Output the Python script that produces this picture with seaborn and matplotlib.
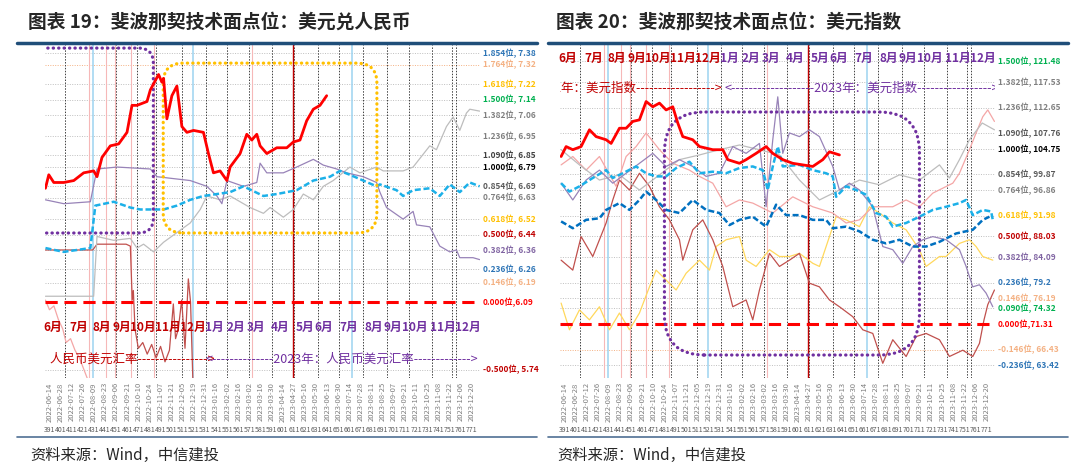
import seaborn as sns
import matplotlib.pyplot as plt
from matplotlib.patches import FancyBboxPatch
from matplotlib.lines import Line2D
from matplotlib.transforms import IdentityTransform, blended_transform_factory

sns.set_theme(style="white")
plt.rcParams['font.family'] = ['Noto Sans CJK SC', 'DejaVu Sans']
plt.rcParams['axes.unicode_minus'] = False

# ---- x axis: trading-day index, a label every 10 sessions ----
tick_idx = list(range(391, 772, 10))
tick_dates = ["2022-06-14", "2022-06-28", "2022-07-12", "2022-07-26", "2022-08-09", "2022-08-23",
              "2022-09-06", "2022-09-21", "2022-10-10", "2022-10-24", "2022-11-07", "2022-11-21",
              "2022-12-05", "2022-12-19", "2022-12-31", "2023-01-16", "2023-02-02", "2023-02-16",
              "2023-03-02", "2023-03-16", "2023-03-30", "2023-04-14", "2023-04-27", "2023-05-16",
              "2023-05-30", "2023-06-13", "2023-06-30", "2023-07-14", "2023-07-28", "2023-08-11",
              "2023-08-25", "2023-09-07", "2023-09-21", "2023-10-11", "2023-10-25", "2023-11-08",
              "2023-11-22", "2023-12-06", "2023-12-20"]

month_names = ["6月", "7月", "8月", "9月", "10月", "11月", "12月", "1月", "2月", "3月", "4月", "5月",
               "6月", "7月", "8月", "9月", "10月", "11月", "12月"]
month_pos = [394, 417.5, 438.5, 456, 475, 497.5, 520, 539, 559, 577, 599, 621, 638, 660, 683, 700,
             720, 745.5, 768]

month_ends = [405, 427, 451, 470, 487, 510, 532, 551, 571, 591, 611, 633, 652, 673, 695, 715, 735, 753, 757]
blue_marks = [430, 520, 663]
pink_marks = [427, 442, 450, 464.5, 485, 573.5]
red_marks = [610]

# ---- USD/CNY fibonacci levels ----
cny_levels = [1.854, 1.764, 1.618, 1.5, 1.382, 1.236, 1.09, 1.0, 0.854, 0.764, 0.618, 0.5, 0.382,
              0.236, 0.146, 0.0, -0.5]
cny_prices = [7.38, 7.32, 7.22, 7.14, 7.06, 6.95, 6.85, 6.79, 6.69, 6.63, 6.52, 6.44, 6.36, 6.26,
              6.19, 6.09, 5.74]
cny_colors = ['#2E75B6', '#F4B183', '#FFC000', '#00B050', '#808080', '#808080', '#404040', '#000000',
              '#595959', '#808080', '#FFC000', '#C00000', '#8064A2', '#2E75B6', '#F4B183', '#FF0000',
              '#C00000']

cny_red_x = [387.4, 390.4, 394.9, 403.9, 412.9, 421.8, 430.8, 433.8, 438.3, 445.8, 453.3, 460.8, 465.3,
             469.8, 478.8, 481.8, 489.2, 492.2, 493.7, 496.7, 501.2, 505.7, 510.2, 514.7, 520.7, 529.6,
             534.1, 538.6, 544.6, 550.7, 553.6, 562.6, 568.6, 573.1, 577.6, 580.6, 586.6, 595.6, 604.6,
             610.5, 616.5, 622.5, 628.5, 634.5, 640.5]
cny_red_y = [6.68, 6.75, 6.71, 6.71, 6.72, 6.76, 6.77, 6.74, 6.84, 6.90, 6.91, 6.97, 7.11, 7.11, 7.13,
             7.19, 7.27, 7.23, 7.25, 7.04, 7.16, 7.21, 7.00, 6.97, 6.98, 6.97, 6.86, 6.76, 6.77, 6.72,
             6.79, 6.86, 6.96, 6.93, 6.96, 6.90, 6.86, 6.89, 6.89, 6.92, 6.93, 7.03, 7.09, 7.11, 7.16]

cny_purple_x = [387.4, 403.9, 427.8, 433.8, 451.8, 481.8, 487.8, 517.7, 532.7, 541.7, 546.2, 550.7,
                565.6, 577.6, 580.6, 586.6, 601.5, 613.5, 628.5, 637.5, 649.5, 658.5, 673.4, 685.4,
                688.4, 694.4, 709.3, 718.3, 721.4, 733.3, 742.3, 751.3, 757.3, 760.3, 772.2, 778.2]
cny_purple_y = [6.62, 6.60, 6.61, 6.78, 6.79, 6.78, 6.74, 6.72, 6.69, 6.64, 6.60, 6.72, 6.69, 6.71,
                6.81, 6.76, 6.76, 6.79, 6.83, 6.80, 6.78, 6.76, 6.74, 6.71, 6.66, 6.58, 6.52, 6.56,
                6.49, 6.48, 6.38, 6.35, 6.36, 6.32, 6.32, 6.31]

cny_gray_x = [387.4, 430.8, 433.8, 448.8, 463.8, 469.8, 475.7, 484.7, 493.7, 505.7, 517.7, 526.7, 532.7,
              544.6, 553.6, 571.6, 583.6, 589.6, 601.5, 610.5, 619.5, 628.5, 637.5, 646.4, 661.4, 670.4,
              685.4, 691.4, 709.3, 718.3, 733.3, 739.3, 748.3, 754.3, 760.3, 766.3, 769.3, 778.2]
cny_gray_y = [6.12, 6.12, 6.43, 6.41, 6.42, 6.37, 6.39, 6.35, 6.40, 6.45, 6.50, 6.57, 6.64, 6.62, 6.64,
              6.58, 6.55, 6.58, 6.53, 6.57, 6.65, 6.62, 6.69, 6.72, 6.79, 6.76, 6.79, 6.77, 6.77, 6.79,
              6.90, 6.88, 7.00, 7.05, 6.98, 7.07, 7.09, 7.08]

cny_blue_x = [387.4, 403.9, 427.8, 432.3, 448.8, 463.8, 472.8, 493.7, 505.7, 517.7, 529.6, 541.7, 553.6,
              565.6, 583.6, 595.6, 613.5, 628.5, 643.5, 652.5, 661.4, 673.4, 685.4, 688.4, 703.4, 709.3,
              718.3, 733.3, 742.3, 751.3, 760.3, 769.3, 778.2]
cny_blue_y = [6.37, 6.35, 6.37, 6.59, 6.61, 6.58, 6.57, 6.57, 6.59, 6.62, 6.64, 6.65, 6.66, 6.69, 6.64,
              6.65, 6.67, 6.72, 6.74, 6.77, 6.75, 6.72, 6.69, 6.70, 6.67, 6.64, 6.67, 6.68, 6.64, 6.70,
              6.66, 6.71, 6.69]

cny_darkred_x = [387.4, 430.0, 433.8, 460.0, 463.8, 465.5, 466.5, 468.0, 471.0, 475.0, 479.0, 483.0,
                 487.0, 491.0, 495.0, 499.0, 502.5, 504.5, 507.0, 510.0, 513.0, 516.0, 518.0, 520.5]
cny_darkred_y = [6.36, 6.36, 6.39, 6.39, 6.38, 6.10, 6.15, 5.95, 5.85, 5.88, 5.82, 5.87, 5.80, 5.86,
                 5.78, 5.84, 6.08, 5.90, 5.95, 6.10, 5.85, 6.21, 6.09, 5.60]

cny_pink_x = [387.4, 391, 395, 399, 403, 406, 410, 414, 418, 422, 426, 428]
cny_pink_y = [6.10, 6.05, 6.07, 6.00, 5.95, 5.88, 5.90, 5.84, 5.80, 5.74, 5.68, 5.62]

# ---- US dollar index fibonacci levels ----
dxy_levels = [1.5, 1.382, 1.236, 1.09, 1.0, 0.854, 0.764, 0.618, 0.5, 0.382, 0.236, 0.146, 0.09, 0.0,
              -0.146, -0.236]
dxy_prices = [121.48, 117.53, 112.65, 107.76, 104.75, 99.87, 96.86, 91.98, 88.03, 84.09, 79.2, 76.19,
              74.32, 71.31, 66.43, 63.42]
dxy_colors = ['#00B050', '#808080', '#808080', '#595959', '#000000', '#595959', '#808080', '#FFC000',
              '#C00000', '#8064A2', '#2E75B6', '#F4B183', '#00B050', '#FF0000', '#F4B183', '#2E75B6']

dxy_red_x = [388.0, 392.5, 398.5, 406.0, 413.5, 419.5, 428.5, 433.0, 440.5, 446.5, 452.5, 458.5, 464.5,
             470.5, 476.5, 482.5, 488.5, 493.0, 497.5, 506.5, 512.5, 524.5, 533.5, 538.0, 548.5, 554.5,
             563.5, 572.5, 578.5, 587.5, 596.5, 605.5, 614.5, 623.5, 629.5, 638.5]
dxy_red_y = [103.3, 105.2, 104.6, 105.2, 108.4, 107.1, 106.5, 105.8, 108.7, 108.7, 110.0, 110.3, 113.8,
             112.8, 113.5, 112.2, 112.8, 109.7, 107.1, 106.5, 105.2, 104.6, 104.6, 102.7, 102.0, 102.7,
             103.9, 105.2, 103.9, 102.7, 102.0, 101.7, 101.4, 102.7, 104.2, 103.6]

dxy_lblue_x = [388.0, 395.5, 404.5, 416.5, 428.5, 434.5, 443.5, 455.5, 464.5, 473.5, 482.5, 491.5,
               503.5, 512.5, 524.5, 536.5, 548.5, 560.5, 569.5, 574.0, 578.5, 583.0, 587.5, 602.5,
               614.5, 626.5, 632.5, 635.5, 644.5, 653.5, 662.5, 671.5, 680.5, 686.5, 698.5, 710.5,
               722.5, 734.5, 746.5, 752.5, 758.5, 767.5, 775.0, 776.5]
dxy_lblue_y = [98.2, 96.6, 97.6, 99.2, 100.7, 99.2, 100.1, 101.4, 100.1, 99.5, 99.5, 101.1, 102.3,
               100.1, 100.4, 100.1, 101.1, 101.4, 100.7, 96.9, 101.4, 105.2, 101.4, 101.7, 100.7,
               100.1, 99.5, 95.6, 97.6, 96.9, 96.0, 92.5, 91.8, 89.9, 90.6, 91.8, 93.1, 93.7, 94.4,
               95.0, 92.1, 93.1, 92.8, 91.2]

dxy_dblue_x = [388.0, 398.5, 410.5, 422.5, 428.5, 440.5, 449.5, 458.5, 464.5, 473.5, 482.5, 494.5,
               506.5, 518.5, 530.5, 539.5, 548.5, 560.5, 572.5, 581.5, 590.5, 602.5, 614.5, 626.5,
               632.5, 644.5, 656.5, 668.5, 680.5, 692.5, 704.5, 716.5, 728.5, 743.5, 758.5, 767.5, 773.5]
dxy_dblue_y = [90.9, 89.6, 91.2, 91.5, 93.1, 94.4, 93.1, 95.0, 96.6, 95.0, 93.1, 92.5, 95.0, 93.1,
               92.5, 90.2, 91.2, 91.8, 89.9, 94.1, 92.1, 92.1, 91.2, 91.2, 89.6, 89.9, 89.0, 87.4,
               86.7, 87.4, 86.1, 86.1, 87.0, 88.6, 89.3, 91.2, 91.8]

dxy_purple_x = [388.0, 398.5, 410.5, 422.5, 434.5, 446.5, 458.5, 470.5, 482.5, 494.5, 506.5, 518.5,
                530.5, 542.5, 554.5, 566.5, 572.5, 578.5, 583.0, 587.5, 593.5, 602.5, 611.5, 620.5,
                632.5, 638.5, 647.5, 656.5, 668.5, 677.5, 686.5, 695.5, 704.5, 713.5, 722.5, 734.5,
                746.5, 752.5, 758.5, 764.5, 770.5, 776.5]
dxy_purple_y = [98.2, 95.0, 98.8, 100.7, 98.2, 100.1, 102.0, 103.9, 101.4, 102.7, 101.4, 99.5, 100.1,
                105.2, 103.9, 105.8, 93.7, 106.5, 114.7, 103.9, 107.8, 107.1, 108.4, 107.1, 101.4,
                96.9, 98.2, 96.9, 93.7, 86.1, 85.5, 82.9, 86.1, 87.4, 88.0, 87.4, 85.5, 82.3, 78.4,
                78.8, 77.2, 74.6]

dxy_gray_x = [388.0, 404.5, 422.5, 440.5, 458.5, 476.5, 494.5, 512.5, 530.5, 548.5, 566.5, 584.5,
              602.5, 620.5, 638.5, 656.5, 674.5, 692.5, 710.5, 728.5, 737.5, 746.5, 755.5, 767.0, 778.0]
dxy_gray_y = [104.6, 101.7, 98.8, 99.8, 96.9, 99.8, 102.7, 103.6, 104.6, 105.5, 104.6, 103.6, 98.8,
              95.0, 96.9, 98.8, 97.9, 99.8, 98.8, 101.7, 99.2, 102.7, 106.5, 109.7, 108.4]

dxy_pink_x = [388.0, 398.5, 410.5, 422.5, 437.5, 446.5, 455.5, 464.5, 476.5, 488.5, 503.5, 512.5,
              524.5, 536.5, 548.5, 560.5, 578.5, 596.5, 614.5, 632.5, 644.5, 656.5, 668.5, 686.5,
              698.5, 710.5, 722.5, 740.5, 746.5, 755.5, 761.5, 767.5, 772.0, 778.0]
dxy_pink_y = [101.7, 103.3, 100.7, 103.3, 97.6, 103.3, 105.2, 107.8, 104.6, 102.0, 100.7, 99.5, 98.2,
              93.7, 95.0, 94.4, 92.5, 95.6, 93.7, 92.5, 90.6, 91.2, 93.7, 93.7, 95.0, 93.7, 96.3,
              98.2, 100.1, 104.6, 107.8, 110.9, 112.2, 110.0]

dxy_darkred_x = [388.0, 398.5, 406.0, 416.5, 428.5, 434.5, 440.5, 449.5, 458.5, 467.5, 476.5, 485.5,
                 494.5, 497.5, 506.5, 515.5, 524.5, 533.5, 542.5, 554.5, 560.5, 566.5, 575.5, 584.5,
                 593.5, 602.5, 611.5, 620.5, 629.5, 638.5, 650.5, 659.5, 668.5, 677.5, 686.5, 698.5,
                 707.5, 716.5, 728.5, 737.5, 749.5, 758.5, 764.5, 768.5, 772.0, 778.0]
dxy_darkred_y = [83.5, 81.6, 88.0, 84.2, 90.6, 95.0, 98.8, 96.9, 100.1, 97.6, 93.7, 91.2, 87.4, 83.5,
                 89.3, 91.2, 87.4, 82.3, 74.6, 75.9, 72.1, 77.8, 84.8, 82.3, 83.5, 84.8, 79.1, 78.4,
                 75.9, 74.6, 72.7, 70.2, 69.5, 63.8, 68.3, 65.1, 68.9, 69.5, 68.3, 65.1, 66.3, 65.1,
                 67.6, 72.0, 75.0, 77.8]

dxy_yellow_x = [388.0, 395.5, 404.5, 413.5, 422.5, 431.5, 440.5, 449.5, 458.5, 467.5, 473.5, 482.5,
                491.5, 500.5, 512.5, 521.5, 527.5, 536.5, 548.5, 554.5, 563.5, 575.5, 584.5, 593.5,
                602.5, 614.5, 620.5, 629.5, 635.5, 644.5, 656.5, 665.5, 674.5, 686.5, 698.5, 710.5,
                716.5, 728.5, 734.5, 746.5, 755.5, 761.5, 767.5, 776.5]
dxy_yellow_y = [75.3, 70.2, 74.0, 72.1, 74.6, 70.2, 73.4, 70.2, 73.4, 78.4, 81.6, 79.7, 77.8, 81.0,
                83.5, 81.6, 86.1, 87.4, 88.0, 83.5, 82.3, 85.5, 84.2, 84.2, 84.8, 82.9, 82.3, 88.0,
                91.8, 91.2, 89.9, 93.7, 92.5, 90.6, 89.3, 85.5, 82.3, 84.2, 84.2, 86.7, 87.4, 86.1,
                84.2, 83.5]

RED, PURPLE = '#C00000', '#7030A0'
DASH = (0, (2.4, 1.1))

fig = plt.figure(figsize=(10.8, 4.74), dpi=100)
ax_l = fig.add_axes([45 / 1080, 1 - 378 / 474, 435 / 1080, 333 / 474])
ax_r = fig.add_axes([560 / 1080, 1 - 378 / 474, 435 / 1080, 333 / 474])


def frame(ax, ylim, levels, prices, colors, tinted):
    ax.set_xlim(387, 778.5)
    ax.set_ylim(*ylim)
    for s in ax.spines.values():
        s.set_visible(False)
    ax.set_yticks([])
    ax.set_xticks(tick_idx)
    ax.set_xticklabels(tick_dates, rotation=90, fontsize=5.5, color='#7f7f7f')
    ax.tick_params(axis='x', length=0, pad=3)
    for lv, p in zip(levels, prices):
        if lv == 0:
            ax.axhline(p, color='#FF0000', lw=2.2, ls=(0, (4, 2.2)), zorder=6)
        else:
            c = '#F4B183' if lv in tinted else '#BFBFBF'
            ax.axhline(p, color=c, lw=0.7, ls=(0, (1, 1.5)), zorder=1)
    for v in month_ends:
        ax.axvline(v, color='#404040', lw=0.7, ls=(0, (1.5, 1.5)), zorder=1)
    for v in blue_marks:
        ax.axvline(v, color='#9DD3F0', lw=1.1, zorder=1)
    for v in pink_marks:
        ax.axvline(v, color='#F6B8B8', lw=0.8, zorder=1)
    for v in red_marks:
        ax.axvline(v, color='#C00000', lw=1.0, zorder=1)
    tr = blended_transform_factory(ax.transAxes, ax.transData)
    for lv, p, c in zip(levels, prices, colors):
        sep = ',' if lv == 0 else ', '
        ax.text(1.007, p, f"{lv:.3f}位{sep}{p}", transform=tr, fontsize=6, fontweight='bold',
                color=c, va='center', ha='left', clip_on=False)
    bt = blended_transform_factory(ax.transData, ax.transAxes)
    for t in tick_idx:
        ax.text(t, -0.156, str(t), transform=bt, fontsize=5, color='#595959', ha='center', va='center')


def months(ax, y):
    for i, (pos, name) in enumerate(zip(month_pos, month_names)):
        ax.text(pos, y, name, ha='center', va='center', fontsize=8.5, fontweight='bold',
                color=RED if i < 7 else PURPLE, zorder=9)


def rounded_box(ax, x0, x1, y0, y1, radius, color):
    (px0, py0), (px1, py1) = ax.transData.transform([(x0, y0), (x1, y1)])
    box = FancyBboxPatch((px0, py0), px1 - px0, py1 - py0,
                         boxstyle=f"round,pad=0,rounding_size={radius}",
                         transform=IdentityTransform(), fill=False, ec=color, lw=2.3,
                         ls=(0, (0.1, 1.6)), capstyle='round', zorder=7)
    ax.add_patch(box)


# ---------------- left: USD/CNY ----------------
frame(ax_l, (5.696, 7.423), cny_levels, cny_prices, cny_colors, tinted=[1.764])
sns.lineplot(x=cny_pink_x, y=cny_pink_y, ax=ax_l, color='#F4A6A6', lw=0.9, zorder=3)
sns.lineplot(x=cny_darkred_x, y=cny_darkred_y, ax=ax_l, color='#C0504D', lw=0.9, zorder=3)
sns.lineplot(x=cny_gray_x, y=cny_gray_y, ax=ax_l, color='#BDBDBD', lw=0.9, zorder=3)
sns.lineplot(x=cny_purple_x, y=cny_purple_y, ax=ax_l, color='#9883B8', lw=0.9, zorder=3)
sns.lineplot(x=cny_blue_x, y=cny_blue_y, ax=ax_l, color='#1CB0E8', lw=1.8, linestyle=DASH, zorder=4)
sns.lineplot(x=cny_red_x, y=cny_red_y, ax=ax_l, color='#FF0000', lw=2.0, zorder=8)
rounded_box(ax_l, 370, 484.5, 6.448, 7.407, 15, PURPLE)
rounded_box(ax_l, 493.4, 685.7, 6.448, 7.329, 20, '#FFC000')
months(ax_l, 5.96)
ax_l.text(344, 5.795, "2022年：人民币美元汇率" + "-" * 16 + ">", color=RED, fontsize=9,
          va='center', zorder=9, clip_on=True)
ax_l.text(531, 5.795, "<" + "-" * 14 + "2023年：人民币美元汇率" + "-" * 13 + ">", color=PURPLE,
          fontsize=9, va='center', zorder=9, clip_on=True)

# ---------------- right: US dollar index ----------------
frame(ax_r, (60.99, 124.6), dxy_levels, dxy_prices, dxy_colors, tinted=[-0.146])
sns.lineplot(x=dxy_yellow_x, y=dxy_yellow_y, ax=ax_r, color='#FFD85C', lw=0.9, zorder=3)
sns.lineplot(x=dxy_darkred_x, y=dxy_darkred_y, ax=ax_r, color='#C0504D', lw=0.9, zorder=3)
sns.lineplot(x=dxy_pink_x, y=dxy_pink_y, ax=ax_r, color='#F4A6A6', lw=0.9, zorder=3)
sns.lineplot(x=dxy_gray_x, y=dxy_gray_y, ax=ax_r, color='#BDBDBD', lw=0.9, zorder=3)
sns.lineplot(x=dxy_purple_x, y=dxy_purple_y, ax=ax_r, color='#9883B8', lw=0.9, zorder=3)
sns.lineplot(x=dxy_dblue_x, y=dxy_dblue_y, ax=ax_r, color='#0070C0', lw=1.8, linestyle=DASH, zorder=4)
sns.lineplot(x=dxy_lblue_x, y=dxy_lblue_y, ax=ax_r, color='#1CB0E8', lw=1.8, linestyle=DASH, zorder=4)
sns.lineplot(x=dxy_red_x, y=dxy_red_y, ax=ax_r, color='#FF0000', lw=2.0, zorder=8)
rounded_box(ax_r, 481, 710.5, 65.38, 111.8, 40, PURPLE)
months(ax_r, 122.1)
ax_r.text(363, 116.4, "2022年：美元指数" + "-" * 18 + ">", color=RED, fontsize=9, va='center',
          zorder=9, clip_on=True)
ax_r.text(535, 116.4, "<" + "-" * 19 + "2023年：美元指数" + "-" * 17 + ">", color=PURPLE,
          fontsize=9, va='center', zorder=9, clip_on=True)

# ---------------- titles, rules, source ----------------
fig.text(28 / 1080, 1 - 22 / 474, "图表 19：斐波那契技术面点位：美元兑人民币", fontsize=13.5,
         fontweight='bold', va='center')
fig.text(556 / 1080, 1 - 22 / 474, "图表 20：斐波那契技术面点位：美元指数", fontsize=13.5,
         fontweight='bold', va='center')
for x0, x1 in [(17, 537), (548, 1068)]:
    fig.add_artist(Line2D([x0 / 1080, x1 / 1080], [1 - 43 / 474] * 2, color='#1F4E79', lw=2.5))
    fig.add_artist(Line2D([x0 / 1080, x1 / 1080], [1 - 437 / 474] * 2, color='#4F6F94', lw=1.2))
fig.text(30 / 1080, 1 - 455 / 474, "资料来源：Wind，中信建投", fontsize=11, style='italic', va='center')
fig.text(557 / 1080, 1 - 455 / 474, "资料来源：Wind，中信建投", fontsize=11, style='italic', va='center')

fig.savefig("out.png", dpi=100)
